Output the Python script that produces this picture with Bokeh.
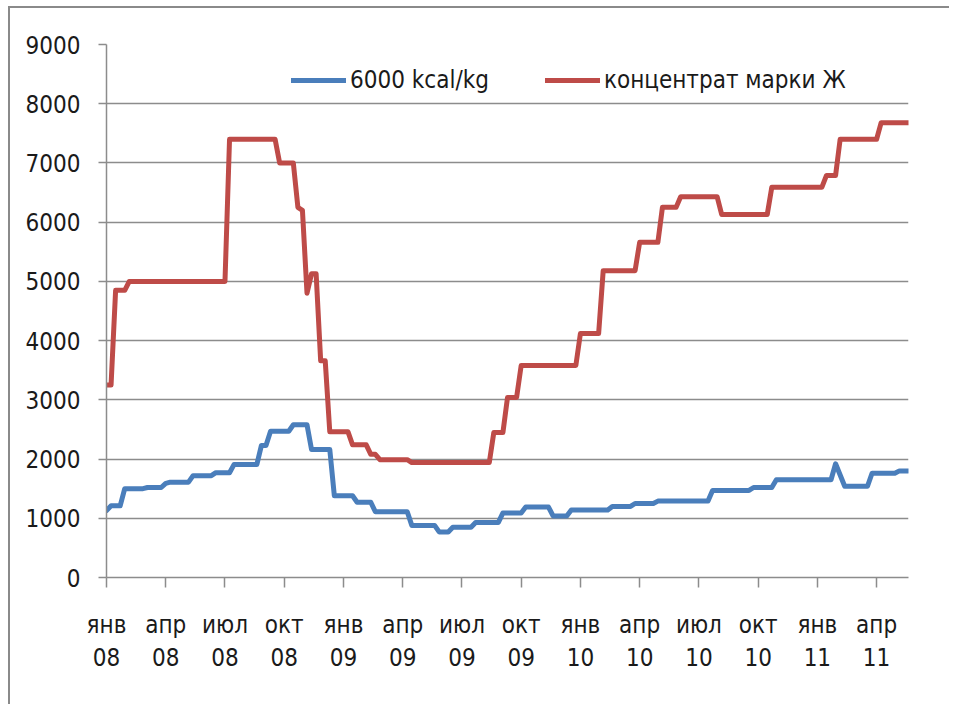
from bokeh.plotting import figure
from bokeh.models import Range1d, FixedTicker, Legend, LegendItem
from bokeh.embed import file_html
from bokeh.resources import INLINE

# --- data (weekly index from first week of Jan 2008) ---
tick_weeks = [0, 13, 26, 39, 52, 65, 78, 91, 104, 117, 130, 143, 156, 169]
tick_labels = ["янв\n08", "апр\n08", "июл\n08", "окт\n08",
               "янв\n09", "апр\n09", "июл\n09", "окт\n09",
               "янв\n10", "апр\n10", "июл\n10", "окт\n10",
               "янв\n11", "апр\n11"]

blue_name = "6000 kcal/kg"
blue_weeks = [0, 1, 3, 4, 8, 9, 12, 13, 14, 18, 19, 23, 24, 27, 28, 33, 34, 35, 36,
              40, 41, 44, 45, 49, 50, 54, 55, 58, 59, 66, 67, 72, 73, 75, 76, 80, 81,
              86, 87, 91, 92, 97, 98, 101, 102, 110, 111, 115, 116, 120, 121, 132, 133,
              141, 142, 146, 147, 159, 160, 162, 167, 168, 173, 174, 176]
blue_values = [1130, 1210, 1210, 1500, 1500, 1520, 1520, 1590, 1610, 1610, 1720, 1720,
               1770, 1770, 1910, 1910, 2230, 2230, 2470, 2470, 2580, 2580, 2160, 2160,
               1380, 1380, 1270, 1270, 1110, 1110, 880, 880, 770, 770, 850, 850, 930,
               930, 1090, 1090, 1190, 1190, 1040, 1040, 1140, 1140, 1200, 1200, 1250,
               1250, 1290, 1290, 1470, 1470, 1520, 1520, 1650, 1650, 1920, 1540, 1540,
               1760, 1760, 1800, 1800]

red_name = "концентрат марки Ж"
red_weeks = [0, 1, 2, 4, 5, 26, 27, 37, 38, 41, 42, 43, 44, 45, 46, 47, 48, 49, 53, 54,
             57, 58, 59, 60, 66, 67, 84, 85, 87, 88, 90, 91, 103, 104, 108, 109, 116,
             117, 121, 122, 125, 126, 134, 135, 145, 146, 157, 158, 160, 161, 169, 170,
             176]
red_values = [3250, 3250, 4850, 4850, 5000, 5000, 7400, 7400, 7000, 7000, 6250, 6200,
              4800, 5130, 5130, 3660, 3660, 2460, 2460, 2240, 2240, 2080, 2080, 1990,
              1990, 1940, 1940, 2450, 2450, 3040, 3040, 3580, 3580, 4120, 4120, 5180,
              5180, 5660, 5660, 6250, 6250, 6430, 6430, 6130, 6130, 6590, 6590, 6790,
              6790, 7400, 7400, 7680, 7680]

y_ticks = [0, 1000, 2000, 3000, 4000, 5000, 6000, 7000, 8000, 9000]

FONT = "DejaVu Sans Condensed"
GRAY = "#8c8c8c"
TXT = "#1a1a1a"

p = figure(width=941, height=698, output_backend="svg", toolbar_location=None,
           x_range=Range1d(0, 176), y_range=Range1d(0, 9000),
           min_border_left=96, min_border_right=43, min_border_top=36,
           min_border_bottom=129)
p.styles = {"border-left": "2px solid #8a8a8a", "border-top": "2px solid #8a8a8a",
            "margin-left": "8px", "margin-top": "6px"}
p.outline_line_color = None
p.background_fill_color = "white"
p.border_fill_color = "white"

b = p.line(blue_weeks, blue_values, line_color="#4a7ebb", line_width=5,
           line_join="round", line_cap="round")
r = p.line(red_weeks, red_values, line_color="#be4b48", line_width=5,
           line_join="round", line_cap="round")

# axes
p.xaxis.ticker = FixedTicker(ticks=tick_weeks)
p.xaxis.major_label_overrides = {w: l for w, l in zip(tick_weeks, tick_labels)}
p.yaxis.ticker = FixedTicker(ticks=y_ticks)
for ax in (p.xaxis[0], p.yaxis[0]):
    ax.axis_line_color = GRAY
    ax.axis_line_width = 1.5
    ax.major_tick_line_color = GRAY
    ax.major_tick_line_width = 1.5
    ax.major_tick_in = 0
    ax.minor_tick_line_color = None
    ax.major_label_text_font = FONT
    ax.major_label_text_font_size = "24px"
    ax.major_label_text_color = TXT
p.xaxis.major_tick_out = 10
p.yaxis.major_tick_out = 8
p.yaxis.major_label_standoff = 18
p.xaxis.major_label_standoff = 23
p.xaxis.major_label_text_line_height = 1.2

p.xgrid.grid_line_color = None
p.ygrid.grid_line_color = GRAY
p.ygrid.grid_line_width = 1.5

legend = Legend(items=[LegendItem(label=blue_name, renderers=[b]),
                       LegendItem(label=red_name, renderers=[r])],
                orientation="horizontal", location=(185, 482),
                border_line_color=None, background_fill_alpha=0,
                label_text_font=FONT, label_text_font_size="24px",
                label_text_color=TXT, glyph_width=55, glyph_height=30,
                label_standoff=4, spacing=56, padding=0, margin=0)
p.add_layout(legend)

open("out.html", "w").write(file_html(p, INLINE))
